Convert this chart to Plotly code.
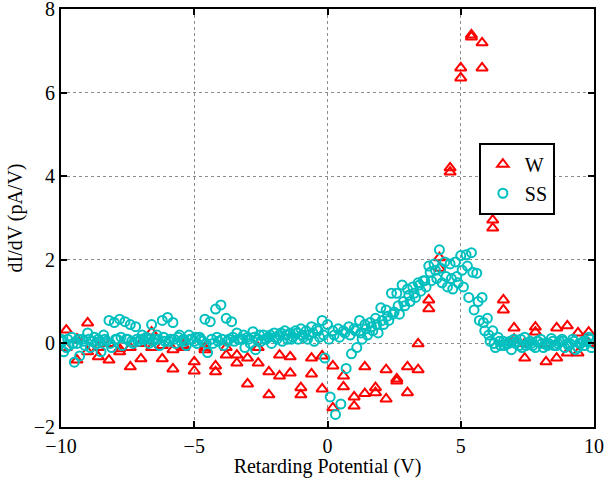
import plotly.graph_objects as go

# ---- W series (two sweeps on a 0.4 V grid) ----
w_x = [-9.8, -9.4, -9.0, -8.6, -8.2, -7.8, -7.4, -7.0, -6.6, -6.2,
       -5.8, -5.4, -5.0, -4.6, -4.2, -3.8, -3.4, -3.0, -2.6, -2.2,
       -1.8, -1.4, -1.0, -0.6, -0.2, 0.2, 0.6, 1.0, 1.4, 1.8,
       2.2, 2.6, 3.0, 3.4, 3.8, 4.2, 4.6, 5.0, 5.4, 5.8,
       6.2, 6.6, 7.0, 7.4, 7.8, 8.2, 8.6, 9.0, 9.4, 9.8]
w_y1 = [0.32, 0.1, 0.49, -0.32, -0.4, -0.13, -0.56, -0.37, 0.27, -0.37,
        -0.61, -0.05, -0.44, -0.15, -0.54, -0.28, -0.28, -0.35, -0.47, -0.68,
        -0.28, -0.32, -1.06, -0.35, -1.09, -0.54, -0.78, -1.28, -0.56, -1.06,
        -0.63, -0.85, -0.56, -0.01, 1.04, 2.05, 4.2, 6.59, 7.38, 7.19,
        2.95, 1.04, 0.37, -0.35, 0.39, -0.44, 0.37, 0.42, 0.25, 0.27]
w_y2 = [-0.1, -0.4, -0.2, -0.1, 0.0, -0.2, -0.1, 0.0, -0.1, -0.05,
        -0.15, -0.1, -0.66, -0.1, -0.68, -0.1, -0.47, -0.97, -0.1, -1.23,
        -0.78, -0.71, -1.23, -0.73, -0.3, -1.54, -1.04, -1.5, -1.2, -1.18,
        -1.33, -0.9, -1.18, -0.63, 0.83, 1.8, 4.1, 6.35, 7.33, 6.59,
        2.76, 0.8, 0.1, 0.0, 0.27, 0.0, -0.35, -0.23, -0.23, 0.0]

# ---- SS series (three interleaved sweeps) ----
ss_xa = [-10.0, -9.8, -9.6, -9.4, -9.2, -9.0, -8.8, -8.6, -8.4, -8.2,
         -8.0, -7.8, -7.6, -7.4, -7.2, -7.0, -6.8, -6.6, -6.4, -6.2,
         -6.0, -5.8, -5.6, -5.4, -5.2, -5.0, -4.8, -4.6, -4.4, -4.2,
         -4.0, -3.8, -3.6, -3.4, -3.2, -3.0, -2.8, -2.6, -2.4, -2.2,
         -2.0, -1.8, -1.6, -1.4, -1.2, -1.0, -0.8, -0.6, -0.4, -0.2,
         0.0, 0.2, 0.4, 0.6, 0.8, 1.0, 1.2, 1.4, 1.6, 1.8,
         2.0, 2.2, 2.4, 2.6, 2.8, 3.0, 3.2, 3.4, 3.6, 3.8,
         4.0, 4.2, 4.4, 4.6, 4.8, 5.0, 5.2, 5.4, 5.6, 5.8,
         6.0, 6.2, 6.4, 6.6, 6.8, 7.0, 7.2, 7.4, 7.6, 7.8,
         8.0, 8.2, 8.4, 8.6, 8.8, 9.0, 9.2, 9.4, 9.6, 9.8, 10.0]
ss_ya = [0.1, -0.1, 0.15, 0.0, 0.1, 0.25, 0.05, 0.1, 0.2, 0.55,
         0.5, 0.58, 0.52, 0.45, 0.4, 0.1, 0.15, 0.45, 0.2, 0.55,
         0.62, 0.5, 0.15, 0.1, 0.2, 0.05, 0.15, 0.58, 0.52, 0.82,
         0.92, 0.6, 0.52, 0.25, 0.1, 0.15, 0.28, 0.1, 0.2, 0.15,
         0.25, 0.2, 0.3, 0.25, 0.3, 0.35, 0.3, 0.4, 0.35, 0.55,
         0.45, 0.3, 0.35, 0.3, 0.4, 0.35, 0.55, 0.45, 0.5, 0.6,
         0.85, 0.8, 1.2, 1.2, 1.4, 1.3, 1.35, 1.45, 1.5, 1.85,
         1.9, 2.24, 1.95, 1.9, 1.95, 2.1, 2.12, 2.17, 1.68, 1.1,
         0.6, 0.3, 0.15, 0.05, 0.0, 0.1, -0.05, 0.15, 0.05, -0.1,
         0.1, 0.0, 0.12, -0.05, 0.1, 0.0, 0.1, -0.1, 0.05, 0.15, 0.0]

ss_xb = [-9.9, -9.7, -9.5, -9.3, -9.1, -8.9, -8.7, -8.5, -8.3, -8.1,
         -7.9, -7.7, -7.5, -7.3, -7.1, -6.9, -6.7, -6.5, -6.3, -6.1,
         -5.9, -5.7, -5.5, -5.3, -5.1, -4.9, -4.7, -4.5, -4.3, -4.1,
         -3.9, -3.7, -3.5, -3.3, -3.1, -2.9, -2.7, -2.5, -2.3, -2.1,
         -1.9, -1.7, -1.5, -1.3, -1.1, -0.9, -0.7, -0.5, -0.3, -0.1,
         0.1, 0.3, 0.5, 0.7, 0.9, 1.1, 1.3, 1.5, 1.7, 1.9,
         2.1, 2.3, 2.5, 2.7, 2.9, 3.1, 3.3, 3.5, 3.7, 3.9,
         4.1, 4.3, 4.5, 4.7, 4.9, 5.1, 5.3, 5.5, 5.7, 5.9,
         6.1, 6.3, 6.5, 6.7, 6.9, 7.1, 7.3, 7.5, 7.7, 7.9,
         8.1, 8.3, 8.5, 8.7, 8.9, 9.1, 9.3, 9.5, 9.7, 9.9]
ss_yb = [-0.2, -0.05, -0.45, -0.3, -0.05, -0.1, 0.0, -0.2, 0.05, -0.1,
         0.1, -0.05, 0.1, 0.0, 0.05, 0.1, 0.0, 0.1, -0.05, 0.05,
         0.1, 0.0, 0.05, -0.05, 0.1, 0.0, 0.05, -0.22, 0.0, 0.05,
         -0.05, 0.1, 0.05, 0.1, -0.1, 0.0, -0.15, 0.05, 0.1, 0.0,
         0.1, 0.05, 0.1, 0.15, 0.1, 0.15, 0.2, 0.05, 0.15, -0.35,
         -1.28, -1.7, -1.45, -0.6, -0.25, -0.1, 0.1, 0.2, 0.3, 0.25,
         0.45, 0.55, 0.75, 0.7, 0.9, 1.0, 1.1, 1.25, 1.35, 1.5,
         1.55, 1.45, 1.35, 1.3, 1.45, 1.35, 1.1, 0.8, 0.55, 0.3,
         0.05, -0.1, -0.05, 0.0, -0.15, 0.05, -0.1, 0.0, -0.05, 0.05,
         -0.1, 0.0, -0.05, 0.05, -0.1, 0.0, -0.15, 0.0, 0.05, -0.1]

ss_xc = [-9.95, -9.75, -9.55, -9.35, -9.15, -8.95, -8.75, -8.55, -8.35, -8.15,
         -7.95, -7.75, -7.55, -7.35, -7.15, -6.95, -6.75, -6.55, -6.35, -6.15,
         -5.95, -5.75, -5.55, -5.35, -5.15, -4.95, -4.75, -4.55, -4.35, -4.15,
         -3.95, -3.75, -3.55, -3.35, -3.15, -2.95, -2.75, -2.55, -2.35, -2.15,
         -1.95, -1.75, -1.55, -1.35, -1.15, -0.95, -0.75, -0.55, -0.35, -0.15,
         0.05, 0.25, 0.45, 0.65, 0.85, 1.05, 1.25, 1.45, 1.65, 1.85,
         2.05, 2.25, 2.45, 2.65, 2.85, 3.05, 3.25, 3.45, 3.65, 3.85,
         4.05, 4.25, 4.45, 4.65, 4.85, 5.05, 5.25, 5.45, 5.65, 5.85,
         6.05, 6.25, 6.45, 6.65, 6.85, 7.05, 7.25, 7.45, 7.65, 7.85,
         8.05, 8.25, 8.45, 8.65, 8.85, 9.05, 9.25, 9.45, 9.65, 9.85]
ss_yc = [0.05, 0.1, 0.0, 0.1, 0.05, 0.1, 0.15, 0.05, 0.1, 0.0,
         0.1, 0.15, 0.1, 0.05, 0.1, 0.2, 0.1, 0.05, 0.1, 0.15,
         0.05, 0.1, 0.2, 0.05, 0.1, 0.15, 0.1, 0.0, 0.1, 0.15,
         0.1, 0.05, 0.15, 0.1, 0.2, 0.1, 0.15, 0.2, 0.1, 0.2,
         0.15, 0.25, 0.2, 0.1, 0.25, 0.2, 0.1, 0.25, 0.3, 0.2,
         0.1, 0.2, 0.15, 0.25, 0.2, 0.3, 0.25, 0.35, 0.4, 0.45,
         0.55, 0.65, 0.7, 0.9, 1.0, 1.15, 1.2, 1.4, 1.5, 1.7,
         1.75, 1.8, 1.6, 1.55, 1.6, 1.75, 1.85, 1.7, 1.0, 0.5,
         0.2, 0.0, 0.05, -0.05, 0.05, 0.0, 0.1, -0.05, 0.0, 0.05,
         0.0, -0.05, 0.05, 0.0, 0.05, -0.05, 0.05, 0.0, -0.05, 0.1]

x_ticks = [-10, -5, 0, 5, 10]
y_ticks = [-2, 0, 2, 4, 6, 8]

RED = "#FF0000"
CYAN = "#00BFBF"
FONT = "Liberation Serif"

fig = go.Figure()
fig.add_trace(go.Scatter(
    x=w_x + w_x, y=w_y1 + w_y2, mode="markers", name="W",
    marker=dict(symbol="triangle-up-open", size=10, color=RED,
                line=dict(width=2, color=RED)),
))
fig.add_trace(go.Scatter(
    x=ss_xa + ss_xb + ss_xc, y=ss_ya + ss_yb + ss_yc, mode="markers", name="SS",
    marker=dict(symbol="circle-open", size=9, color=CYAN,
                line=dict(width=2, color=CYAN)),
))

axis_common = dict(
    showline=True, linecolor="black", linewidth=2, mirror="ticks",
    ticks="inside", ticklen=6, tickwidth=1.5, tickcolor="black",
    showgrid=True, gridcolor="#8c8c8c", griddash="dot", gridwidth=1,
    zeroline=False, automargin=False, ticklabeloverflow="allow",
    tickfont=dict(family=FONT, size=20, color="black"),
)

fig.update_xaxes(range=[-10, 10], tickvals=x_ticks,
                 title=dict(text="Retarding Potential (V)",
                            font=dict(family=FONT, size=20, color="black"),
                            standoff=0),
                 **axis_common)
fig.update_yaxes(range=[-2, 8], tickvals=y_ticks,
                 title=dict(text="dI/dV (pA/V)",
                            font=dict(family=FONT, size=20, color="black"),
                            standoff=6),
                 **axis_common)

fig.update_layout(
    width=605, height=478,
    margin=dict(l=61, r=11, t=9, b=51, autoexpand=False),
    paper_bgcolor="white", plot_bgcolor="white",
    font=dict(family=FONT, size=20, color="black"),
    showlegend=True,
    legend=dict(x=0.784, y=0.68, xanchor="left", yanchor="top",
                bgcolor="white", bordercolor="black", borderwidth=2,
                font=dict(family=FONT, size=20, color="black"),
                itemwidth=34, tracegroupgap=0),
)

fig.write_html("out.html")
